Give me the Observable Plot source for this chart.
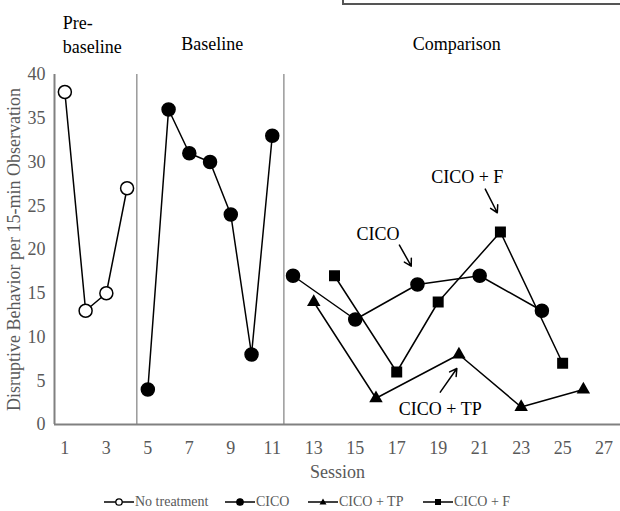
<!DOCTYPE html>
<html>
<head>
<meta charset="utf-8">
<script src="https://cdn.jsdelivr.net/npm/d3@7"></script>
<script src="https://cdn.jsdelivr.net/npm/@observablehq/plot@0.6"></script>
<style>
  body { margin: 0; background: #fff; font-family: "Liberation Serif", "Times New Roman", serif; }
  #wrap { position: relative; width: 620px; height: 511px; overflow: hidden; }
  #box { position: absolute; left: 342px; top: -30px; width: 290px; height: 31px; border: 2px solid #555; }
  #legend { position: absolute; top: 493px; left: 0; width: 620px; height: 18px; font-size: 14px; color: #595959; }
  .item { position: absolute; top: 0; display: flex; align-items: center; white-space: nowrap; }
  .item svg { margin-right: 1px; }
  svg text { font-family: "Liberation Serif", "Times New Roman", serif; }
</style>
</head>
<body>
<div id="wrap">
  <div id="chart"></div>
  <div id="box"></div>
  <div id="legend"></div>
</div>
<script>
// ---- data ----
const preSessions = [1, 2, 3, 4];
const preValues = [38, 13, 15, 27];
const baseSessions = [5, 6, 7, 8, 9, 10, 11];
const baseValues = [4, 36, 31, 30, 24, 8, 33];
const cicoSessions = [12, 15, 18, 21, 24];
const cicoValues = [17, 12, 16, 17, 13];
const tpSessions = [13, 16, 20, 23, 26];
const tpValues = [14, 3, 8, 2, 4];
const fSessions = [14, 17, 19, 22, 25];
const fValues = [17, 6, 14, 22, 7];
const xTicks = [1, 3, 5, 7, 9, 11, 13, 15, 17, 19, 21, 23, 25, 27];
const yTicks = [0, 5, 10, 15, 20, 25, 30, 35, 40];
const phaseBreaks = [4.47, 11.56];
const phaseLabels = ["Pre-\nbaseline", "Baseline", "Comparison"];
const phaseLabelX = [0.9, 8.1, 19.9];
const phaseLabelY = [44.7, 43.5, 43.5];
const annoLabels = ["CICO + F", "CICO", "CICO + TP"];
const annoX = [20.4, 16.1, 19.1];
const annoY = [28.3, 21.8, 1.8];
const arrowX1 = [21.27, 17.13, 19.1];
const arrowY1 = [26.9, 20.5, 3.7];
const arrowX2 = [21.85, 17.7, 19.9];
const arrowY2 = [24.2, 18.1, 6.4];
const legendNames = ["No treatment", "CICO", "CICO + TP", "CICO + F"];

const toRows = (xs, ys) => xs.map((x, i) => ({x, y: ys[i]}));
const pre = toRows(preSessions, preValues);
const base = toRows(baseSessions, baseValues);
const cico = toRows(cicoSessions, cicoValues);
const tp = toRows(tpSessions, tpValues);
const ff = toRows(fSessions, fValues);
const phases = phaseLabels.map((t, i) => ({t, x: phaseLabelX[i], y: phaseLabelY[i]}));
const annos = annoLabels.map((t, i) => ({t, x: annoX[i], y: annoY[i], x1: arrowX1[i], y1: arrowY1[i], x2: arrowX2[i], y2: arrowY2[i]}));

const axisGray = "#808080";
const textGray = "#595959";
const fs = 18;

const chart = Plot.plot({
  width: 620,
  height: 488,
  marginLeft: 54,
  marginRight: 0,
  marginTop: 74,
  marginBottom: 64,
  style: {fontFamily: "'Liberation Serif', 'Times New Roman', serif", fontSize: "18px", background: "white"},
  x: {domain: [0.5, 27.79], label: null},
  y: {domain: [0, 40], label: null},
  marks: [
    Plot.axisX({ticks: xTicks, tickSize: 0, tickPadding: 17, color: textGray, fontSize: fs, label: null}),
    Plot.axisY({ticks: yTicks, tickSize: 0, tickPadding: 9, color: textGray, fontSize: fs, label: null}),
    Plot.ruleX(phaseBreaks, {y1: 0, y2: 40, stroke: axisGray, strokeWidth: 1.2}),
    Plot.ruleY([0], {stroke: axisGray, strokeWidth: 2}),
    Plot.ruleX([0.5], {y1: 0, y2: 40, stroke: axisGray, strokeWidth: 2}),
    Plot.line(pre, {x: "x", y: "y", stroke: "black", strokeWidth: 1.5}),
    Plot.line(base, {x: "x", y: "y", stroke: "black", strokeWidth: 1.5}),
    Plot.line(cico, {x: "x", y: "y", stroke: "black", strokeWidth: 1.5}),
    Plot.line(tp, {x: "x", y: "y", stroke: "black", strokeWidth: 1.5}),
    Plot.line(ff, {x: "x", y: "y", stroke: "black", strokeWidth: 1.5}),
    Plot.dot(pre, {x: "x", y: "y", r: 6.5, fill: "white", stroke: "black", strokeWidth: 1.5}),
    Plot.dot(base, {x: "x", y: "y", r: 6.5, fill: "black", stroke: "black"}),
    Plot.dot(cico, {x: "x", y: "y", r: 6.5, fill: "black", stroke: "black"}),
    Plot.dot(tp, {x: "x", y: "y", r: 5, symbol: "triangle", fill: "black"}),
    Plot.dot(ff, {x: "x", y: "y", r: 6.2, symbol: "square", fill: "black"}),
    Plot.arrow(annos, {x1: "x1", y1: "y1", x2: "x2", y2: "y2", stroke: "black", strokeWidth: 1.5, headLength: 8}),
    Plot.text(annos, {x: "x", y: "y", text: "t", fill: "black", fontSize: fs}),
    Plot.text(phases.slice(0, 1), {x: "x", y: "y", text: "t", fill: "black", fontSize: fs, textAnchor: "start", lineHeight: 1.3, clip: false}),
    Plot.text(phases.slice(1), {x: "x", y: "y", text: "t", fill: "black", fontSize: fs, clip: false}),
    Plot.text(["Session"], {frameAnchor: "bottom", dy: 53, fill: textGray, fontSize: fs}),
    Plot.text(["Disruptive Behavior per 15-min Observation"], {frameAnchor: "left", textAnchor: "middle", dx: -40, rotate: -90, fill: textGray, fontSize: fs})
  ]
});
document.getElementById("chart").appendChild(chart);

// ---- legend ----
const legendSymbols = [
  {sym: "circle", fill: "white"},
  {sym: "circle", fill: "black"},
  {sym: "triangle", fill: "black"},
  {sym: "square", fill: "black"}
];
const legendLeft = [104, 225, 308, 423];
const legend = document.getElementById("legend");
legendNames.forEach((name, i) => {
  const item = document.createElement("div");
  item.className = "item";
  item.style.left = legendLeft[i] + "px";
  const s = legendSymbols[i];
  let shape;
  if (s.sym === "circle") shape = `<circle cx="15" cy="9" r="3.2" fill="${s.fill}" stroke="black" stroke-width="1.3"/>`;
  else if (s.sym === "triangle") shape = `<path d="M15,5.5 L18.5,11.5 L11.5,11.5 Z" fill="black"/>`;
  else shape = `<rect x="12" y="6" width="6" height="6" fill="black"/>`;
  item.innerHTML = `<svg width="30" height="18"><line x1="0" y1="9" x2="30" y2="9" stroke="black" stroke-width="1.5"/>${shape}</svg><span>${name}</span>`;
  legend.appendChild(item);
});
</script>
</body>
</html>
